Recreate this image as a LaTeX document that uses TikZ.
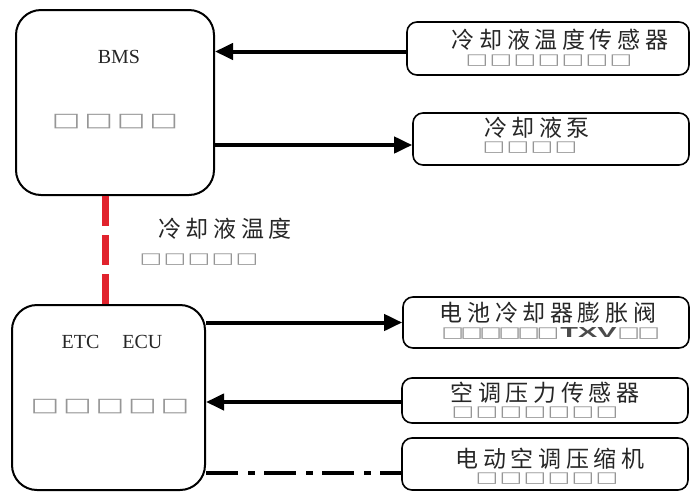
\documentclass[tikz,border=0pt]{standalone}
\usepackage{fontspec}
\setmainfont{Liberation Serif}
\newfontfamily\cjk{Noto Sans CJK SC}[LetterSpace=20]
\newfontfamily\sqfont{DejaVu Sans}[FakeStretch=1.6]
\newfontfamily\txvfont{Liberation Sans Bold}[FakeStretch=2.0]
\usetikzlibrary{arrows.meta}
\definecolor{redline}{RGB}{225,35,45}
\definecolor{sqgray}{RGB}{150,150,150}
\definecolor{txvgray}{RGB}{75,75,75}
\newcommand\sqa{\makebox[24pt]{□}}
\newcommand\sqb{\makebox[32.5pt]{□}}
\newcommand\sqc{\makebox[19pt]{□}}
\tikzset{
  bigbox/.style={draw, line width=2pt, rounded corners=25pt},
  smallbox/.style={draw, line width=1.6pt, rounded corners=10pt},
  zh/.style={inner sep=0pt, text=black!85, font=\cjk\fontsize{23}{23}\selectfont},
  en/.style={inner sep=0pt, text=black!85, font=\fontsize{20}{20}\selectfont},
  sqs/.style={inner sep=0pt, text=sqgray, font=\sqfont\fontsize{15}{15}\selectfont},
  sqbig/.style={inner sep=0pt, text=sqgray, font=\sqfont\fontsize{19}{19}\selectfont},
  conn/.style={line width=4pt},
  arr/.style={conn, -{Triangle[length=18pt,width=16pt]}},
  redd/.style={line width=7pt, draw=redline, dash pattern=on 30pt off 9pt},
  dashdot/.style={conn, dash pattern=on 32pt off 10pt on 7pt off 9pt}
}
\begin{document}
\begin{tikzpicture}[x=1pt,y=-1pt]
\useasboundingbox (0,0) rectangle (691,491);
% main boxes
\node[bigbox, minimum width=198pt, minimum height=185pt] (bms) at (115,102.5) {};
\node[bigbox, minimum width=193pt, minimum height=185pt] (etc) at (108.5,397.5) {};
\node[en] (bmst) at (119,57) {BMS};
\node[sqbig] (bmssq) at (115,122) {\sqb\sqb\sqb\sqb};
\node[en] (etct) at (112,342) {ETC\hspace{23pt}ECU};
\node[sqbig] (etcsq) at (110,407) {\sqb\sqb\sqb\sqb\sqb};
% side boxes
\node[smallbox, minimum width=282pt, minimum height=53pt] (sens) at (548,48.5) {};
\node[smallbox, minimum width=276pt, minimum height=52pt] (pump) at (551,139) {};
\node[smallbox, minimum width=286pt, minimum height=51pt] (txv) at (546,322.5) {};
\node[smallbox, minimum width=286pt, minimum height=45pt] (pres) at (545,400.5) {};
\node[smallbox, minimum width=286pt, minimum height=52pt] (comp) at (545,464) {};
% side texts
\node[zh] (senst) at (560,40) {冷却液温度传感器};
\node[sqs] (senssq) at (549,61) {\sqa\sqa\sqa\sqa\sqa\sqa\sqa};
\node[zh] (pumpt) at (537,128) {冷却液泵};
\node[sqs] (pumpsq) at (530,148) {\sqa\sqa\sqa\sqa};
\node[zh] (txvt) at (548,313) {电池冷却器膨胀阀};
\node[sqs] (txvsq) at (551,333) {\sqc\sqc\sqc\sqc\sqc\sqc\hspace{3pt}{\txvfont\color{txvgray}\fontsize{14.5}{14.5}\selectfont TXV}\hspace{2pt}\makebox[20pt]{□}\makebox[20pt]{□}};
\node[zh] (prest) at (545,393) {空调压力传感器};
\node[sqs] (pressq) at (535,413) {\sqa\sqa\sqa\sqa\sqa\sqa\sqa};
\node[zh] (compt) at (550,459) {电动空调压缩机};
\node[sqs] (compsq) at (547,479) {\sqa\sqa\sqa\sqa\sqa\sqa};
% label
\node[zh] (lab) at (225,229) {冷却液温度};
\node[sqs] (labsq) at (199,260) {\sqa\sqa\sqa\sqa\sqa};
% connectors
\draw[arr] ([yshift=-3pt]sens.west) -- ([yshift=-3pt]sens.west -| bms.east);
\draw[arr] ([yshift=-6pt]pump.west -| bms.east) -- ([yshift=-6pt]pump.west);
\draw[redd] (bms.south -| 105,0) -- (etc.north -| 105,0);
\draw[arr] (txv.west -| etc.east) -- (txv.west);
\draw[arr] ([yshift=-1.5pt]pres.west) -- ([yshift=-1.5pt]pres.west -| etc.east);
\draw[dashdot] ([yshift=-9pt]comp.west -| etc.east) -- ([yshift=-9pt]comp.west);
\end{tikzpicture}
\end{document}
